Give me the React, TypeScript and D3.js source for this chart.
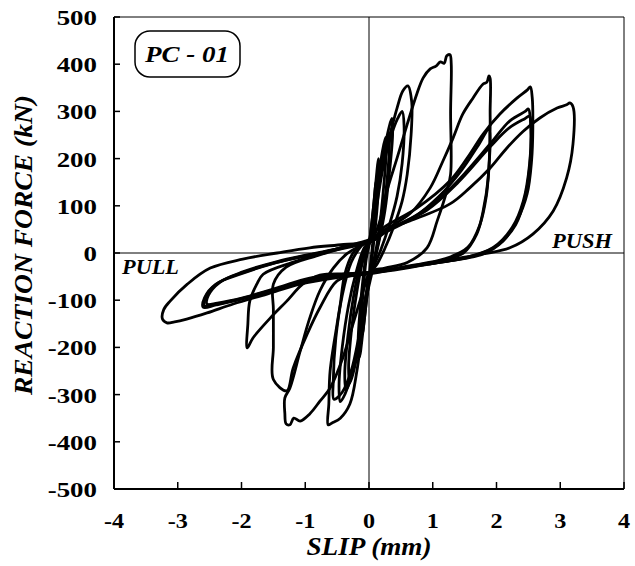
import React from "react";
import * as d3 from "d3";

// Hysteresis loops for push-off specimen PC-01: slip (mm) vs reaction force (kN).
type Pt = [number, number];

const xTicks = [-4, -3, -2, -1, 0, 1, 2, 3, 4];
const yTicks = [500, 400, 300, 200, 100, 0, -100, -200, -300, -400, -500];

// each cycle: positive loading, unloading, negative loading, unloading
const cycle0: Pt[] = [[0, 15], [0.04, 60], [0.08, 110], [0.11, 150], [0.12, 130], [0.09, 70], [0.05, 10], [0.01, -40], [-0.04, -100], [-0.08, -150], [-0.1, -170], [-0.12, -140], [-0.09, -80], [-0.05, -20], [-0.02, 5]];
const cycle1: Pt[] = [[0, 20], [0.05, 70], [0.1, 140], [0.15, 200], [0.16, 170], [0.13, 100], [0.08, 30], [0.03, -30], [-0.03, -90], [-0.09, -160], [-0.15, -220], [-0.17, -190], [-0.14, -120], [-0.09, -50], [-0.04, 0]];
const cycle2: Pt[] = [[0.02, 25], [0.08, 80], [0.15, 160], [0.21, 215], [0.26, 245], [0.27, 215], [0.23, 140], [0.17, 60], [0.1, 0], [0.02, -45], [-0.06, -110], [-0.15, -190], [-0.24, -250], [-0.3, -275], [-0.32, -245], [-0.28, -170], [-0.2, -90], [-0.12, -30], [-0.05, 5]];
const cycle2b: Pt[] = [[0.02, 28], [0.1, 95], [0.18, 175], [0.26, 230], [0.31, 255], [0.32, 225], [0.28, 150], [0.21, 70], [0.12, 5], [0.03, -42], [-0.08, -115], [-0.18, -200], [-0.28, -265], [-0.36, -290], [-0.38, -255], [-0.33, -175], [-0.24, -90], [-0.14, -25], [-0.06, 8]];
const cycle3: Pt[] = [[0.03, 30], [0.1, 90], [0.18, 170], [0.27, 240], [0.36, 285], [0.37, 250], [0.32, 170], [0.25, 90], [0.15, 20], [0.05, -40], [-0.05, -100], [-0.15, -180], [-0.28, -260], [-0.38, -300], [-0.45, -315], [-0.47, -280], [-0.42, -200], [-0.32, -110], [-0.2, -40], [-0.08, 10]];
const cycle4: Pt[] = [[0.03, 30], [0.06, 61], [0.14, 131], [0.22, 201], [0.33, 252], [0.44, 307], [0.53, 343], [0.61, 354], [0.67, 320], [0.66, 250], [0.6, 167], [0.52, 110], [0.38, 53], [0.25, 10], [0.12, -25], [0.0, -45], [-0.03, -74], [-0.09, -144], [-0.19, -250], [-0.3, -320], [-0.45, -350], [-0.58, -360], [-0.64, -364], [-0.63, -320], [-0.61, -250], [-0.5, -150], [-0.45, -108], [-0.38, -45], [-0.25, 0], [-0.1, 20]];
const cycle5: Pt[] = [[0.04, 35], [0.12, 100], [0.22, 180], [0.34, 245], [0.45, 285], [0.52, 300], [0.55, 270], [0.52, 190], [0.44, 120], [0.32, 60], [0.18, 5], [0.04, -40], [-0.05, -90], [-0.15, -170], [-0.28, -250], [-0.42, -295], [-0.55, -310], [-0.56, -270], [-0.52, -180], [-0.42, -90], [-0.28, -20], [-0.12, 15]];
const cycle6: Pt[] = [[0.06, 32], [0.17, 68], [0.28, 131], [0.44, 201], [0.6, 273], [0.75, 337], [0.85, 371], [0.96, 390], [1.05, 396], [1.12, 405], [1.18, 402], [1.22, 418], [1.27, 420], [1.29, 400], [1.28, 300], [1.28, 167], [1.22, 131], [1.07, 68], [0.91, 11], [0.6, -20], [0.25, -32], [0.02, -40], [-0.09, -80], [-0.25, -150], [-0.41, -222], [-0.61, -286], [-0.77, -314], [-0.93, -341], [-1.08, -356], [-1.18, -350], [-1.24, -364], [-1.3, -362], [-1.32, -340], [-1.32, -307], [-1.24, -286], [-1.08, -208], [-0.93, -138], [-0.77, -80], [-0.56, -32], [-0.35, -2], [-0.1, 18]];
const cycle7: Pt[] = [[0.05, 30], [0.22, 47], [0.64, 83], [0.96, 138], [1.16, 195], [1.32, 244], [1.47, 294], [1.63, 328], [1.79, 358], [1.85, 362], [1.88, 375], [1.9, 370], [1.9, 300], [1.9, 265], [1.87, 159], [1.79, 89], [1.69, 40], [1.48, 0], [1.0, -20], [0.5, -32], [0, -42], [-0.3, -44], [-0.77, -47], [-1.04, -66], [-1.29, -102], [-1.55, -138], [-1.82, -180], [-1.91, -201], [-1.9, -150], [-1.87, -102], [-1.76, -66], [-1.66, -45], [-1.2, -20], [-0.6, 5], [-0.2, 20]];
const cycle8: Pt[] = [[0.05, 28], [0.2, 40], [0.7, 75], [1.1, 120], [1.45, 175], [1.7, 225], [1.88, 262], [1.9, 240], [1.88, 180], [1.84, 120], [1.74, 60], [1.55, 12], [1.2, -12], [0.6, -28], [0.1, -40], [-0.2, -45], [-0.5, -59], [-0.77, -116], [-0.97, -172], [-1.19, -244], [-1.29, -292], [-1.5, -268], [-1.5, -200], [-1.5, -120], [-1.5, -66], [-1.3, -30], [-0.8, -5], [-0.3, 15]];
const cycle9: Pt[] = [[0.05, 28], [0.22, 53], [0.75, 95], [1.27, 153], [1.54, 201], [1.79, 252], [2.05, 294], [2.32, 328], [2.48, 345], [2.53, 352], [2.56, 330], [2.57, 265], [2.55, 195], [2.48, 125], [2.32, 68], [2.1, 25], [1.79, -2], [1.0, -22], [0.3, -38], [-0.3, -44], [-0.93, -53], [-1.44, -74], [-1.98, -95], [-2.38, -106], [-2.54, -108], [-2.52, -90], [-2.34, -62], [-1.98, -40], [-1.44, -18], [-0.93, -3], [-0.4, 12]];
const cycle10: Pt[] = [[0.05, 25], [0.3, 48], [0.8, 85], [1.3, 140], [1.9, 231], [2.21, 280], [2.45, 300], [2.5, 305], [2.53, 285], [2.53, 200], [2.45, 120], [2.3, 60], [2.0, 15], [1.6, -8], [0.8, -26], [0.1, -40], [-0.5, -48], [-1.0, -58], [-1.5, -78], [-2.0, -98], [-2.4, -110], [-2.6, -115], [-2.58, -95], [-2.4, -66], [-2.0, -44], [-1.5, -22], [-1.0, -6], [-0.4, 10]];
const cycle11: Pt[] = [[0.05, 26], [0.3, 50], [0.9, 90], [1.4, 150], [1.9, 225], [2.2, 265], [2.45, 285], [2.52, 290], [2.54, 270], [2.52, 190], [2.42, 110], [2.25, 55], [1.95, 12], [1.5, -10], [0.7, -28], [0, -41], [-0.6, -50], [-1.1, -62], [-1.6, -82], [-2.1, -100], [-2.45, -110], [-2.58, -112], [-2.55, -90], [-2.35, -62], [-1.95, -40], [-1.45, -20], [-0.9, -4], [-0.4, 12]];
const cycle12: Pt[] = [[0.05, 25], [0.22, 47], [0.64, 68], [1.27, 104], [1.58, 138], [1.9, 180], [2.16, 222], [2.42, 258], [2.68, 286], [2.95, 307], [3.1, 314], [3.15, 318], [3.2, 310], [3.2, 231], [3.1, 159], [2.89, 89], [2.57, 40], [2.21, 11], [1.79, -2], [1.0, -20], [0.49, -32], [0, -44], [-0.5, -52], [-1.08, -66], [-1.6, -87], [-2.13, -108], [-2.54, -127], [-2.86, -140], [-3.05, -146], [-3.17, -148], [-3.24, -140], [-3.22, -120], [-3.12, -102], [-2.85, -66], [-2.49, -32], [-1.98, -13], [-1.44, 0], [-0.93, 11], [-0.4, 18]];

const cycles = [cycle0, cycle1, cycle2, cycle2b, cycle3, cycle4, cycle5, cycle6, cycle7, cycle8, cycle9, cycle10, cycle11, cycle12];

const font = "Liberation Serif, Times New Roman, serif";

export default function App() {
  const left = 114, right = 624, top = 17, bottom = 489;
  const x = d3.scaleLinear().domain([-4, 4]).range([left, right]);
  const y = d3.scaleLinear().domain([-500, 500]).range([bottom, top]);
  const line = d3
    .line<Pt>()
    .x((d) => x(d[0]))
    .y((d) => y(d[1]))
    .curve(d3.curveCatmullRomClosed.alpha(0.5));
  const sx = 1.28;

  return (
    <svg width={635} height={566} style={{ position: "absolute", left: 0, top: 0, background: "#fff" }}>
      {/* zero lines */}
      <line x1={left} x2={right} y1={y(0)} y2={y(0)} stroke="#000" strokeWidth={1} />
      <line x1={x(0)} x2={x(0)} y1={top} y2={bottom} stroke="#000" strokeWidth={1} />

      {/* frame */}
      <line x1={left} x2={right} y1={top} y2={top} stroke="#000" strokeWidth={1} />
      <line x1={right} x2={right} y1={top} y2={bottom} stroke="#000" strokeWidth={1} />
      <line x1={left} x2={left} y1={top} y2={bottom} stroke="#000" strokeWidth={2} />
      <line x1={left} x2={right} y1={bottom} y2={bottom} stroke="#000" strokeWidth={2} />

      {yTicks.map((t) => (
        <g key={"y" + t}>
          <line x1={left} x2={left + 6} y1={y(t)} y2={y(t)} stroke="#000" strokeWidth={1.5} />
          <g transform={`translate(97,${y(t) + 8}) scale(${sx},1)`}>
            <text textAnchor="end" fontFamily={font} fontWeight="bold" fontSize={21}>
              {t}
            </text>
          </g>
        </g>
      ))}
      {xTicks.map((t) => (
        <g key={"x" + t}>
          <line x1={x(t)} x2={x(t)} y1={bottom} y2={bottom - 7} stroke="#000" strokeWidth={1.5} />
          <g transform={`translate(${x(t)},528) scale(1.15,1)`}>
            <text textAnchor="middle" fontFamily={font} fontWeight="bold" fontSize={21}>
              {t}
            </text>
          </g>
        </g>
      ))}

      {cycles.map((c, i) => (
        <path key={i} d={line(c) || ""} fill="none" stroke="#000" strokeWidth={2.8} strokeLinejoin="round" />
      ))}

      {/* labels */}
      <text x={369} y={555} textAnchor="middle" fontFamily={font} fontWeight="bold" fontStyle="italic" fontSize={25} textLength={125} lengthAdjust="spacingAndGlyphs">
        SLIP (mm)
      </text>
      <text transform="translate(32,245) rotate(-90)" textAnchor="middle" fontFamily={font} fontWeight="bold" fontStyle="italic" fontSize={26} textLength={300} lengthAdjust="spacingAndGlyphs">
        REACTION FORCE (kN)
      </text>
      <rect x={135} y={31} width={105} height={46} rx={15} fill="#fff" stroke="#000" strokeWidth={1.5} />
      <text x={187} y={62} textAnchor="middle" fontFamily={font} fontWeight="bold" fontStyle="italic" fontSize={23} textLength={84} lengthAdjust="spacingAndGlyphs">
        PC - 01
      </text>
      <text x={122} y={274} fontFamily={font} fontWeight="bold" fontStyle="italic" fontSize={20} textLength={57} lengthAdjust="spacingAndGlyphs">
        PULL
      </text>
      <text x={552} y={248} fontFamily={font} fontWeight="bold" fontStyle="italic" fontSize={20} textLength={60} lengthAdjust="spacingAndGlyphs">
        PUSH
      </text>
    </svg>
  );
}
